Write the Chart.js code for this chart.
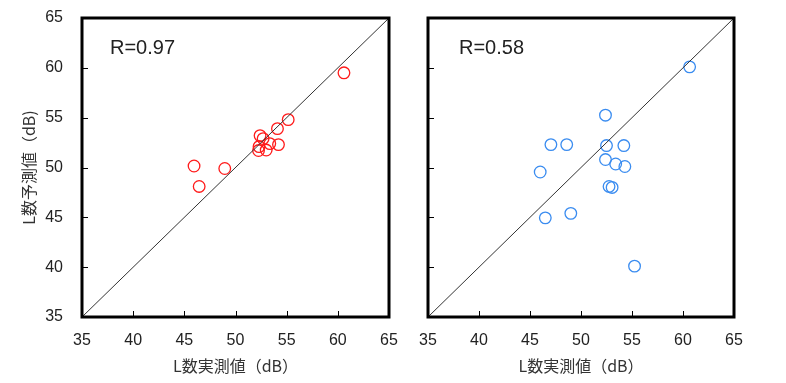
<!DOCTYPE html>
<html><head><meta charset="utf-8">
<script src="https://cdn.jsdelivr.net/npm/chart.js@4/dist/chart.umd.min.js"></script>
<style>
html,body{margin:0;padding:0;background:#fff;width:786px;height:383px;overflow:hidden}
#c1,#c2{position:absolute;top:0}
#c1{left:0}
#c2{left:400px}
</style></head>
<body>
<canvas id="c1" width="400" height="383"></canvas>
<canvas id="c2" width="386" height="383"></canvas>
<script>
const tickValues = [35, 40, 45, 50, 55, 60, 65];
const diagonalLine = [35, 65];

const leftMeasured  = [60.6, 55.15, 54.1, 54.2, 52.4, 52.7, 53.35, 52.3, 52.25, 53.0, 48.95, 45.95, 46.45];
const leftPredicted = [59.5, 54.8, 53.9, 52.3, 53.2, 52.9, 52.4, 52.1, 51.7, 51.75, 49.9, 50.15, 48.1];

const rightMeasured  = [60.65, 52.4, 47.05, 48.6, 52.5, 54.2, 52.4, 53.4, 54.3, 46.0, 52.75, 53.05, 46.5, 49.0, 55.25];
const rightPredicted = [60.1, 55.25, 52.3, 52.3, 52.2, 52.2, 50.8, 50.35, 50.1, 49.55, 48.1, 48.0, 44.95, 45.4, 40.1];

const leftLabel = 'R=0.97';
const rightLabel = 'R=0.58';
const xTitle = 'L数実測値（dB）';
const yTitle = 'L数予測値（dB)';

const NUM_FONT = "'Liberation Sans', Arial, sans-serif";
const CJK_FONT = "'Noto Sans CJK JP', sans-serif";

const framePlugin = {
  id: 'frame',
  afterDraw(chart) {
    const {ctx, chartArea: a, scales} = chart;
    ctx.save();
    ctx.strokeStyle = '#000';
    ctx.lineWidth = 1;
    ctx.beginPath();
    tickValues.forEach(v => {
      if (v === 35 || v === 65) return;
      const px = Math.round(scales.x.getPixelForValue(v)) + 0.5;
      ctx.moveTo(px, a.bottom); ctx.lineTo(px, a.bottom - 6);
      const py = Math.round(scales.y.getPixelForValue(v)) + 0.5;
      ctx.moveTo(a.left, py); ctx.lineTo(a.left + 6, py);
    });
    ctx.stroke();
    ctx.lineWidth = 3;
    ctx.strokeRect(a.left, a.top, a.right - a.left, a.bottom - a.top);
    const lbl = chart.options.plugins.frame.label;
    ctx.fillStyle = '#222';
    ctx.font = "20px " + NUM_FONT;
    ctx.textBaseline = 'alphabetic';
    ctx.textAlign = 'left';
    ctx.fillText(lbl, a.left + chart.options.plugins.frame.dx, a.top + 36);
    ctx.restore();
  }
};

function makeChart(id, xs, ys, color, label, opts) {
  const pts = xs.map((x, i) => ({x: x, y: ys[i]}));
  return new Chart(document.getElementById(id), {
    type: 'scatter',
    data: {
      datasets: [
        {
          type: 'line',
          data: diagonalLine.map(v => ({x: v, y: v})),
          borderColor: '#333',
          borderWidth: 1,
          pointRadius: 0,
          fill: false
        },
        {
          data: pts,
          pointRadius: 5.8,
          pointHoverRadius: 5.8,
          pointBorderWidth: 1.3,
          borderColor: color,
          backgroundColor: 'rgba(0,0,0,0)',
          pointBackgroundColor: 'rgba(0,0,0,0)'
        }
      ]
    },
    options: {
      responsive: false,
      animation: false,
      events: [],
      layout: {padding: {top: 18, right: opts.padRight, left: opts.padLeft, bottom: 7}},
      plugins: {legend: {display: false}, tooltip: {enabled: false},
        frame: {label: label, dx: opts.dx}},
      scales: {
        x: {
          type: 'linear', min: 35, max: 65,
          afterBuildTicks: s => { s.ticks = tickValues.map(v => ({value: v})); },
          grid: {display: false, drawTicks: false},
          border: {display: false},
          ticks: {padding: 14, color: '#222', font: {family: NUM_FONT, size: 16}},
          title: {display: true, text: xTitle, color: '#333', font: {family: CJK_FONT, size: 16}, padding: 0},
          afterFit: s => { s.height = 59; s.paddingLeft = 0; s.paddingRight = 0; }
        },
        y: {
          type: 'linear', min: 35, max: 65,
          afterBuildTicks: s => { s.ticks = tickValues.map(v => ({value: v})); },
          grid: {display: false, drawTicks: false},
          border: {display: false},
          ticks: {padding: 19, color: '#222', font: {family: NUM_FONT, size: 16},
            callback: v => opts.showY ? String(v) : ''},
          title: {display: opts.showY, text: yTitle, color: '#333', font: {family: CJK_FONT, size: 16}, padding: 0},
          afterFit: s => { s.width = opts.yWidth; s.paddingTop = 0; s.paddingBottom = 0; }
        }
      }
    },
    plugins: [framePlugin]
  });
}

makeChart('c1', leftMeasured, leftPredicted, '#ff1a1a', leftLabel,
  {padLeft: 19, yWidth: 63, padRight: 11, showY: true, dx: 28});
makeChart('c2', rightMeasured, rightPredicted, '#3a8cf0', rightLabel,
  {padLeft: 0, yWidth: 28, padRight: 52, showY: false, dx: 31});
</script>
</body></html>
